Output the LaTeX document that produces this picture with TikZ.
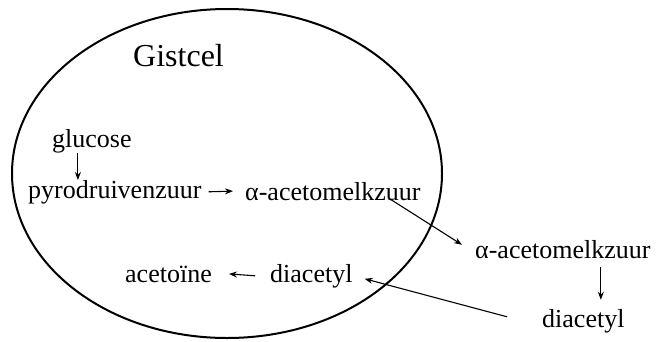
\documentclass[tikz,border=0pt]{standalone}
\usepackage{fontspec}
\setmainfont{Liberation Serif}
\usetikzlibrary{arrows.meta,calc}
\begin{document}
\begin{tikzpicture}[x=1pt,y=-1pt,
  lbl/.style={inner sep=0pt,anchor=base west,font=\fontsize{26}{30}\selectfont},
  arr/.style={line width=1.1pt,-{Stealth[length=8pt,width=6pt]}}]
\useasboundingbox (0,0) rectangle (664,341);
\draw[line width=2pt] (227,173.5) ellipse [x radius=215, y radius=164.5];
\node[inner sep=0pt,anchor=base west,font=\fontsize{32}{36}\selectfont] (cel) at (133,66) {Gistcel};
\node[lbl] (glu) at (52,147) {glucose};
\node[lbl] (pyro) at (28,198) {pyrodruivenzuur};
\node[lbl] (ala) at (245,200) {α-acetomelkzuur};
\node[lbl] (alb) at (475,258) {α-acetomelkzuur};
\node[lbl] (dib) at (542,327) {diacetyl};
\node[lbl] (dia) at (270,282) {diacetyl};
\node[lbl] (ace) at (125,282) {acetoïne};
\draw[arr] ($(glu.base)+(-14,6)$) -- ($(glu.base -| glu.base)+(-14,33)$);
\draw[arr] ($(pyro.east)+(7,0)$) -- ($(ala.west)+(-12,0)$);
\draw[arr] ($(ala.south east)+(-30,-1)$) -- ($(alb.north west)+(-13,5)$);
\draw[arr] ($(dib.north |- alb.south)+(17.5,9)$) -- ($(dib.north)+(17.5,-9)$);
\draw[arr] ($(dib.west)+(-35,-4)$) -- ($(dia.east)+(12,3)$);
\draw[arr] ($(dia.west)+(-15,0)$) -- ($(ace.east)+(17,0)$);
\end{tikzpicture}
\end{document}
